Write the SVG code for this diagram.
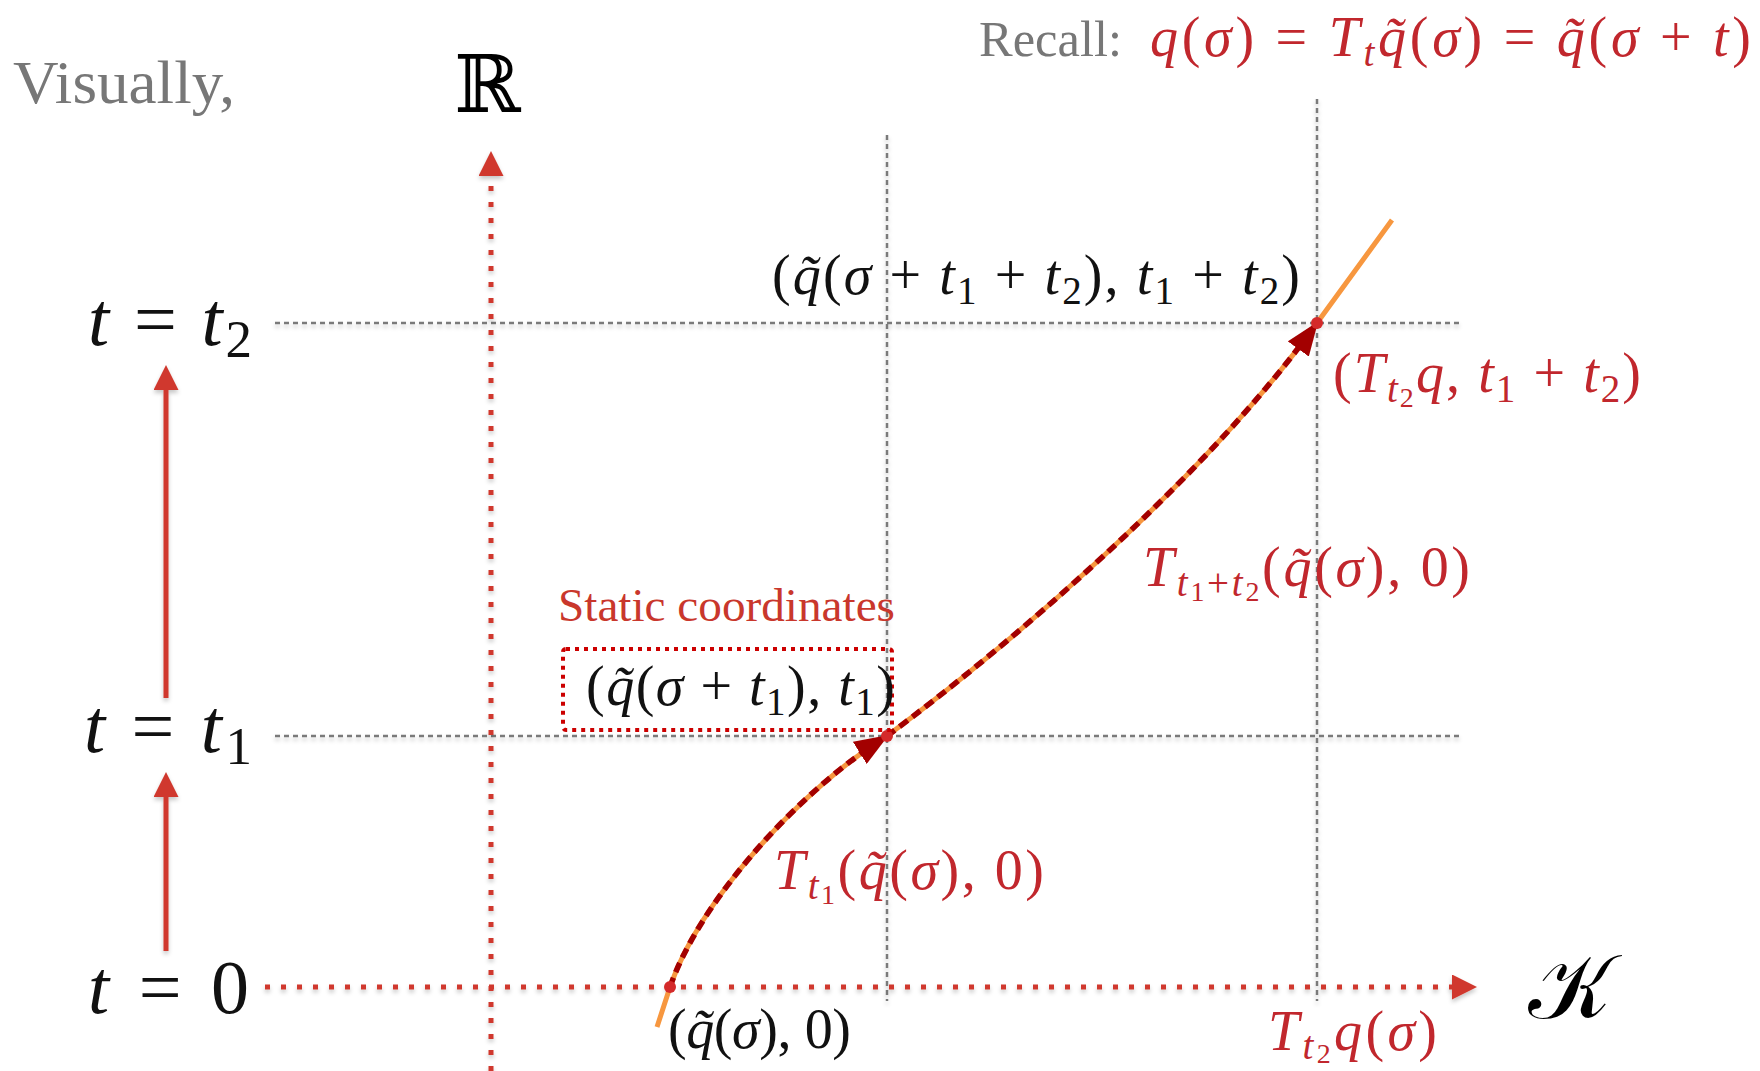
<svg xmlns="http://www.w3.org/2000/svg" width="1760" height="1071" viewBox="0 0 1760 1071">
<style>
.m{font-family:"Liberation Serif",serif;font-size:56px}
.big{font-size:76px}
.i{font-style:italic}
.s{font-size:39px}
.ss{font-size:28px}
.sb{font-size:53px}
.red{fill:#c1272d}
.blk{fill:#111}
.gray{fill:#777;font-family:"Liberation Serif",serif}
.grid{stroke:#7a7a7a;stroke-width:2.5;stroke-dasharray:5 4;fill:none}
.axis{stroke:#d0392f;stroke-width:5;stroke-dasharray:5 11;fill:none}
.tarrow{stroke:#d0392f;stroke-width:5;fill:none}
.curve{stroke:#f7973f;stroke-width:5;fill:none}
.flow{stroke:#a30000;stroke-width:5.5;stroke-dasharray:10 6;fill:none}
.dot{fill:#d42a2a}
</style>
<defs>
<filter id="sh" x="-20%" y="-20%" width="140%" height="140%">
<feDropShadow dx="0" dy="3" stdDeviation="2" flood-color="#000" flood-opacity="0.22"/>
</filter>
<marker id="ah" viewBox="0 0 25 25" refX="0" refY="12.5" markerWidth="25" markerHeight="25" markerUnits="userSpaceOnUse" orient="auto">
<path d="M0,0 L25,12.5 L0,25 Z" fill="#d0392f"/>
</marker>
<marker id="dh" viewBox="0 0 34 26" refX="32" refY="13" markerWidth="34" markerHeight="26" markerUnits="userSpaceOnUse" orient="auto">
<path d="M0,0 L34,13 L0,26 Z" fill="#a30000"/>
</marker>
</defs>
<rect width="1760" height="1071" fill="#fff"/>

<g id="connectors">
<g filter="url(#sh)">
<path class="grid" d="M275,323 H1461"/>
<path class="grid" d="M275,736 H1461"/>
<path class="grid" d="M887,135 V1001"/>
<path class="grid" d="M1317,99 V1001"/>
</g>
<g filter="url(#sh)">
<path class="axis" d="M491,1071 V176" marker-end="url(#ah)"/>
<path class="axis" d="M265,987 H1452" marker-end="url(#ah)"/>
<path class="tarrow" d="M166,951 V797" marker-end="url(#ah)"/>
<path class="tarrow" d="M166,698 V390" marker-end="url(#ah)"/>
</g>
<path class="curve" d="M657,1027 L670,987 C700,900 800,790 887,736 C1000,652 1200,485 1317,323 L1392,220"/>
<path class="flow" d="M670,987 C700,900 800,790 887,736" marker-end="url(#dh)"/>
<path class="flow" d="M887,736 C1000,652 1200,485 1317,323" marker-end="url(#dh)"/>
<circle class="dot" cx="670" cy="987" r="6"/>
<circle class="dot" cx="887" cy="736" r="6"/>
<circle class="dot" cx="1317" cy="323" r="6"/>
</g>

<g id="title"><text class="gray" x="13" y="103" font-size="62" textLength="222" lengthAdjust="spacingAndGlyphs">Visually,</text></g>
<g id="axis-R"><text x="454" y="112" font-family="DejaVu Serif,DejaVu Sans,serif" font-size="80" fill="#000">ℝ</text></g>
<g id="axis-K"><text x="1528" y="1018" font-family="DejaVu Serif,DejaVu Sans,serif" font-size="90" fill="#000">𝒦</text></g>
<g id="recall">
<text class="gray" x="979" y="56" font-size="50" textLength="143" lengthAdjust="spacingAndGlyphs">Recall:</text>
<text class="m red" x="1150" y="56" textLength="601" lengthAdjust="spacing"><tspan class="i">q</tspan>(<tspan class="i">σ</tspan>) = <tspan class="i">T</tspan><tspan class="i s" dy="10">t</tspan><tspan class="i" dy="-10">q̃</tspan>(<tspan class="i">σ</tspan>) = <tspan class="i">q̃</tspan>(<tspan class="i">σ</tspan> + <tspan class="i">t</tspan>)</text>
</g>

<g id="label-t2"><text class="m big blk" x="88" y="345" textLength="164" lengthAdjust="spacing"><tspan class="i">t</tspan> = <tspan class="i">t</tspan><tspan class="sb" dy="12">2</tspan></text></g>
<g id="label-t1"><text class="m big blk" x="84" y="752" textLength="168" lengthAdjust="spacing"><tspan class="i">t</tspan> = <tspan class="i">t</tspan><tspan class="sb" dy="12">1</tspan></text></g>
<g id="label-t0"><text class="m big blk" x="88" y="1013" textLength="161" lengthAdjust="spacing"><tspan class="i">t</tspan> = 0</text></g>

<g id="point-t2">
<text class="m blk" x="772" y="294" textLength="528" lengthAdjust="spacing">(<tspan class="i">q̃</tspan>(<tspan class="i">σ</tspan> + <tspan class="i">t</tspan><tspan class="s" dy="10">1</tspan><tspan dy="-10"> + </tspan><tspan class="i">t</tspan><tspan class="s" dy="10">2</tspan><tspan dy="-10">), </tspan><tspan class="i">t</tspan><tspan class="s" dy="10">1</tspan><tspan dy="-10"> + </tspan><tspan class="i">t</tspan><tspan class="s" dy="10">2</tspan><tspan dy="-10">)</tspan></text>
<text class="m red" x="1333" y="392" textLength="308" lengthAdjust="spacing">(<tspan class="i">T</tspan><tspan class="i s" dy="10">t</tspan><tspan class="ss" dy="5">2</tspan><tspan class="i" dy="-15">q</tspan>, <tspan class="i">t</tspan><tspan class="s" dy="10">1</tspan><tspan dy="-10"> + </tspan><tspan class="i">t</tspan><tspan class="s" dy="10">2</tspan><tspan dy="-10">)</tspan></text>
</g>
<g id="flow-t1t2"><text class="m red" x="1143" y="586" textLength="327" lengthAdjust="spacing"><tspan class="i">T</tspan><tspan class="i s" dy="10">t</tspan><tspan class="ss" dy="5">1</tspan><tspan class="s" dy="-5">+</tspan><tspan class="i s">t</tspan><tspan class="ss" dy="5">2</tspan><tspan dy="-15">(</tspan><tspan class="i">q̃</tspan>(<tspan class="i">σ</tspan>), 0)</text></g>
<g id="static">
<text class="gray" x="558" y="621" font-size="46" style="fill:#c9372c" textLength="337" lengthAdjust="spacingAndGlyphs">Static coordinates</text>
<rect x="563" y="649" width="329" height="81" rx="3" fill="none" stroke="#cc0000" stroke-width="4" stroke-dasharray="4 5"/>
<text class="m blk" x="586" y="705" textLength="309" lengthAdjust="spacing">(<tspan class="i">q̃</tspan>(<tspan class="i">σ</tspan> + <tspan class="i">t</tspan><tspan class="s" dy="10">1</tspan><tspan dy="-10">), </tspan><tspan class="i">t</tspan><tspan class="s" dy="10">1</tspan><tspan dy="-10">)</tspan></text>
</g>
<g id="flow-t1"><text class="m red" x="774" y="889" textLength="270" lengthAdjust="spacing"><tspan class="i">T</tspan><tspan class="i s" dy="10">t</tspan><tspan class="ss" dy="5">1</tspan><tspan dy="-15">(</tspan><tspan class="i">q̃</tspan>(<tspan class="i">σ</tspan>), 0)</text></g>
<g id="point-0"><text class="m blk" x="668" y="1048" textLength="183" lengthAdjust="spacing">(<tspan class="i">q̃</tspan>(<tspan class="i">σ</tspan>), 0)</text></g>
<g id="point-K"><text class="m red" x="1268" y="1050" textLength="169" lengthAdjust="spacing"><tspan class="i">T</tspan><tspan class="i s" dy="9">t</tspan><tspan class="ss" dy="4">2</tspan><tspan class="i" dy="-13">q</tspan>(<tspan class="i">σ</tspan>)</text></g>
</svg>
